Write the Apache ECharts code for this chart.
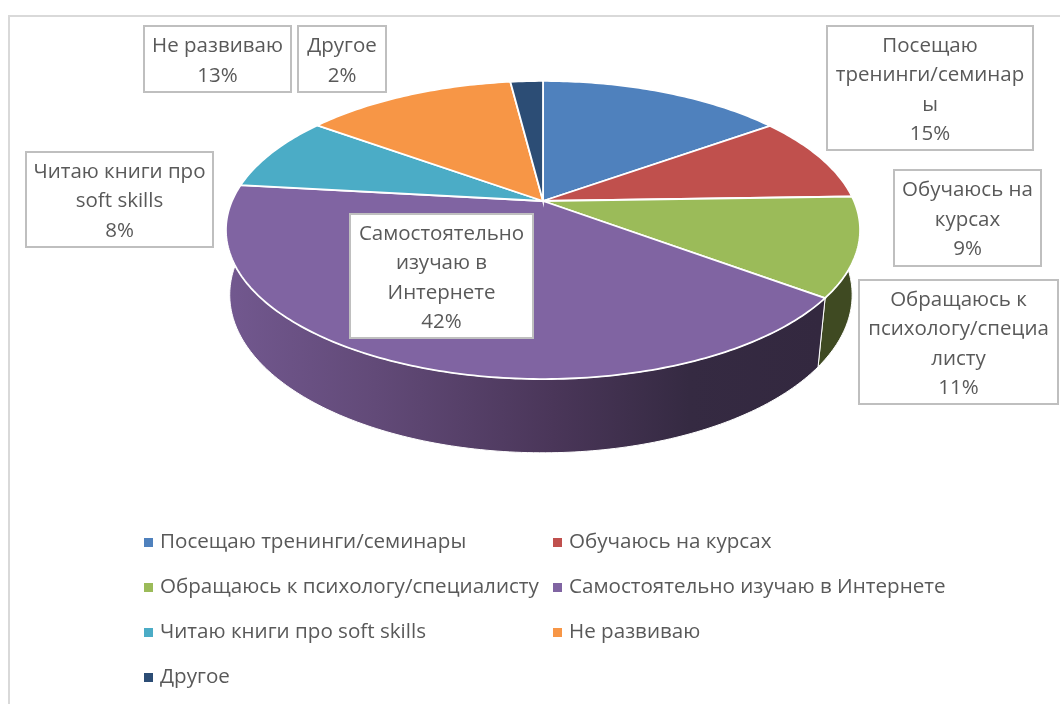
<!DOCTYPE html>
<html lang="ru">
<head>
<meta charset="utf-8">
<title>Развитие soft skills</title>
<script src="https://cdn.jsdelivr.net/npm/echarts@6/dist/echarts.min.js"></script>
<style>
  html, body { margin: 0; padding: 0; background: #fff; }
  #chart { width: 1060px; height: 704px; }
</style>
</head>
<body>
<div id="chart"></div>
<script>
// данные
const categories = [
  'Посещаю тренинги/семинары',
  'Обучаюсь на курсах',
  'Обращаюсь к психологу/специалисту',
  'Самостоятельно изучаю в Интернете',
  'Читаю книги про soft skills',
  'Не развиваю',
  'Другое',
]
// доли оценены по секторам на картинке, в подписях округляются
const values = [15.1, 9.4, 10.7, 41.6, 8.2, 13, 2]
const wrappedNames = [
  'Посещаю\nтренинги/семинар\nы',
  'Обучаюсь на\nкурсах',
  'Обращаюсь к\nпсихологу/специа\nлисту',
  'Самостоятельно\nизучаю в\nИнтернете',
  'Читаю книги про\nsoft skills',
  'Не развиваю',
  'Другое',
]

const colors = ['#4f81bd', '#c0504d', '#9bbb59', '#8064a2', '#4bacc6', '#f79646', '#2c4d75']
const wallColors = ['#2f4d71', '#73302e', '#3f4a22', '#4a3659', '#2d6776', '#945a2a', '#1a2e46']
const textColor = '#595959'
const fontFamily = '"Open Sans", "Noto Sans", sans-serif'

// рамки подписей: x, y, ширина, высота
const labelBoxes = [
  [827, 26, 206, 124],
  [894, 170, 147, 96],
  [859, 280, 199, 124],
  [350, 214, 183, 124],
  [26, 152, 187, 95],
  [144, 26, 147, 66],
  [298, 26, 88, 66],
]

// перспектива диска
const cx = 543
const cy = 201
const radiusX = 311
const radiusY = 143.4
const tilt = -0.1946

function rimPoint(share) {
  const angle = share / 100 * Math.PI * 2
  const u = Math.sin(angle)
  const v = -Math.cos(angle)
  const w = 1 + tilt * v
  return [cx + radiusX * u / w, cy + radiusY * v / w]
}

// нижняя кромка боковой стенки
function lowerPoint(p) {
  const shrink = p[0] < cx ? 0.988 : 0.975
  return [cx + (p[0] - cx) * shrink, 51 + p[1] * 1.06]
}

function arcPoints(from, to) {
  const points = []
  const steps = Math.max(2, Math.ceil((to - from) * 4))
  for (let i = 0; i <= steps; i++) {
    points.push(rimPoint(from + (to - from) * i / steps))
  }
  return points
}

function wallFill(index) {
  if (index === 3) {
    return new echarts.graphic.LinearGradient(227, 0, 820, 0, [
      { offset: 0, color: '#72588f' },
      { offset: 0.25, color: '#624a78' },
      { offset: 0.55, color: '#4a3659' },
      { offset: 0.78, color: '#352a42' },
      { offset: 1, color: '#33283f' },
    ], true)
  }
  return wallColors[index]
}

const series = categories.map((name, index) => {
  const from = values.slice(0, index).reduce((a, b) => a + b, 0)
  return {
    name,
    type: 'custom',
    coordinateSystem: 'none',
    silent: true,
    itemStyle: { color: colors[index] },
    data: [[values[index]]],
    renderItem(params, api) {
      const rim = arcPoints(from, from + api.value(0))
      const lower = rim.map(lowerPoint).reverse()
      return {
        type: 'group',
        children: [
          {
            type: 'polygon',
            z2: 1,
            shape: { points: rim.concat(lower) },
            style: { fill: wallFill(index), stroke: '#fff', lineWidth: 1 },
          },
          {
            type: 'polygon',
            z2: 10,
            shape: { points: [[cx, cy]].concat(rim) },
            style: { fill: colors[index], stroke: '#fff', lineWidth: 1.8 },
          },
        ],
      }
    },
  }
})

const labelGraphics = []
labelBoxes.forEach((box, index) => {
  labelGraphics.push({
    type: 'rect',
    z: 100,
    shape: { x: box[0], y: box[1], width: box[2], height: box[3] },
    style: { fill: '#fff', stroke: '#bfbfbf', lineWidth: 2 },
  })
  labelGraphics.push({
    type: 'text',
    z: 101,
    x: box[0] + box[2] / 2,
    y: box[1] + box[3] / 2 + 2,
    style: {
      text: wrappedNames[index] + '\n' + Math.round(values[index]) + '%',
      fill: textColor,
      font: '20.5px ' + fontFamily,
      lineHeight: 29.5,
      align: 'center',
      verticalAlign: 'middle',
    },
  })
})

const legendBase = {
  orient: 'vertical',
  icon: 'rect',
  itemWidth: 9,
  itemHeight: 9,
  itemGap: 18,
  selectedMode: false,
  padding: 0,
  textStyle: { color: textColor, fontSize: 20.6, fontFamily, lineHeight: 27, padding: [0, 0, 0, 2] },
}

const chart = echarts.init(document.getElementById('chart'), null, { renderer: 'canvas' })
chart.setOption({
  animation: false,
  backgroundColor: '#fff',
  tooltip: { show: false },
  legend: [
    { ...legendBase, left: 144, top: 529, data: categories.filter((_, i) => i % 2 === 0) },
    { ...legendBase, left: 553, top: 529, data: categories.filter((_, i) => i % 2 === 1) },
  ],
  graphic: [
    {
      type: 'rect',
      z: 0,
      shape: { x: 9, y: 16, width: 1100, height: 760 },
      style: { fill: 'none', stroke: '#d9d9d9', lineWidth: 2 },
    },
    ...labelGraphics,
  ],
  series,
})
</script>
</body>
</html>
